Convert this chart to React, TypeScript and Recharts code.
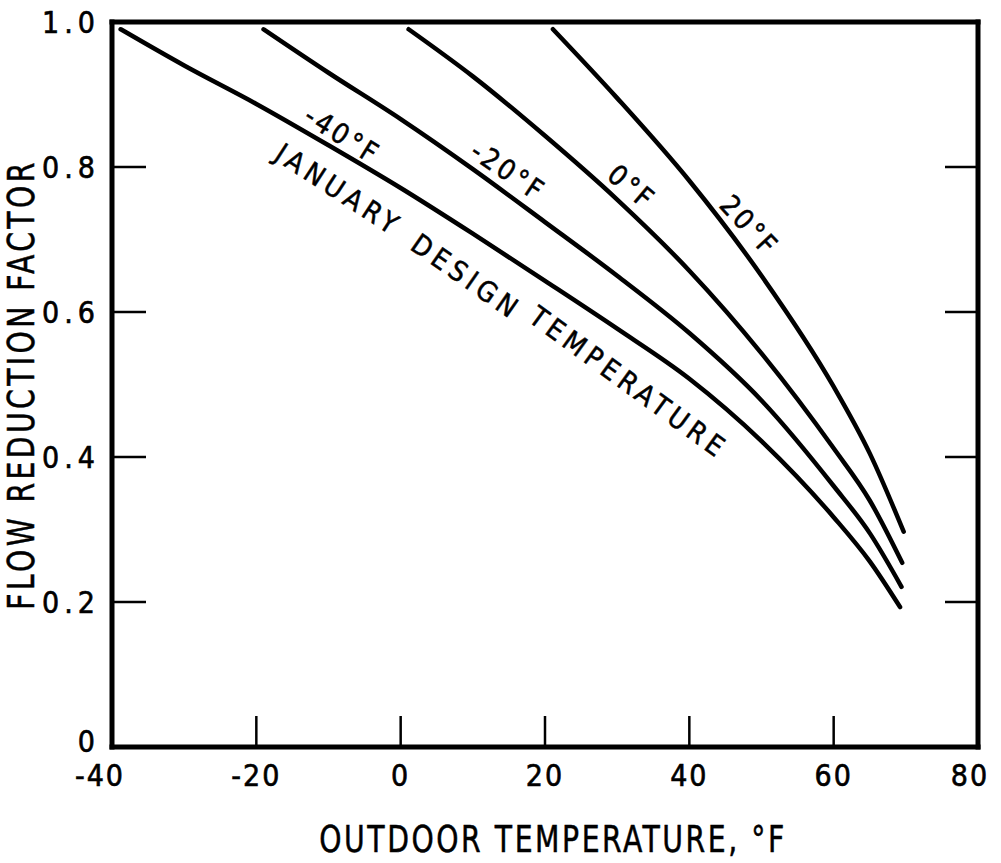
import { LineChart, Line, XAxis, YAxis, ReferenceDot } from 'recharts'

const FONT = "'DejaVu Sans Condensed', 'DejaVu Sans', sans-serif"

const xTicks = [-40, -20, 0, 20, 40, 60, 80]
const yTicks = [0, 0.2, 0.4, 0.6, 0.8, 1.0]

// flow reduction factor vs outdoor temperature, one curve per january design temp
const designMinus40 = [
  { t: -38.8, f: 0.99 },
  { t: -30, f: 0.94 },
  { t: -20, f: 0.887 },
  { t: -10, f: 0.83 },
  { t: 0, f: 0.771 },
  { t: 10, f: 0.708 },
  { t: 20, f: 0.643 },
  { t: 30, f: 0.577 },
  { t: 40, f: 0.508 },
  { t: 50, f: 0.422 },
  { t: 60, f: 0.317 },
  { t: 65, f: 0.256 },
  { t: 69.2, f: 0.193 },
]
const designMinus20 = [
  { t: -19, f: 0.99 },
  { t: -10, f: 0.93 },
  { t: 0, f: 0.866 },
  { t: 10, f: 0.797 },
  { t: 20, f: 0.724 },
  { t: 30, f: 0.65 },
  { t: 40, f: 0.571 },
  { t: 50, f: 0.478 },
  { t: 60, f: 0.36 },
  { t: 65, f: 0.295 },
  { t: 69.4, f: 0.221 },
]
const design0 = [
  { t: 1.1, f: 0.99 },
  { t: 10, f: 0.925 },
  { t: 20, f: 0.843 },
  { t: 30, f: 0.755 },
  { t: 40, f: 0.657 },
  { t: 50, f: 0.543 },
  { t: 60, f: 0.412 },
  { t: 65, f: 0.34 },
  { t: 69.5, f: 0.254 },
]
const design20 = [
  { t: 21.1, f: 0.99 },
  { t: 30, f: 0.895 },
  { t: 40, f: 0.781 },
  { t: 50, f: 0.65 },
  { t: 60, f: 0.497 },
  { t: 65, f: 0.405 },
  { t: 69.7, f: 0.297 },
]

const curves = [
  { name: '-40°F', data: designMinus40 },
  { name: '-20°F', data: designMinus20 },
  { name: '0°F', data: design0 },
  { name: '20°F', data: design20 },
]

const curveLabels = [
  { text: '-40°F', t: -8.1, f: 0.844, rot: 32, spacing: 3 },
  { text: '-20°F', t: 14.9, f: 0.794, rot: 34, spacing: 3 },
  { text: '0°F', t: 32.0, f: 0.772, rot: 40, spacing: 3 },
  { text: '20°F', t: 48.3, f: 0.719, rot: 47, spacing: 3 },
  { text: 'JANUARY', t: -8.6, f: 0.768, rot: 33, spacing: 5 },
  { text: 'DESIGN', t: 9.1, f: 0.648, rot: 35, spacing: 5 },
  { text: 'TEMPERATURE', t: 31.6, f: 0.502, rot: 36, spacing: 5 },
]

function CurveText({ viewBox, text, rot, spacing }: any) {
  const x = viewBox.x + viewBox.width / 2
  const y = viewBox.y + viewBox.height / 2
  return (
    <text
      x={x}
      y={y}
      transform={`rotate(${rot} ${x} ${y})`}
      textAnchor="middle"
      dominantBaseline="central"
      fontSize={28}
      fontFamily={FONT}
      letterSpacing={spacing}
      fill="#000"
      stroke="#000"
      strokeWidth={0.5}
    >
      {text}
    </text>
  )
}

function BottomTick({ x, y, payload }: any) {
  const v = payload.value
  // end labels sit a little left of their ticks in the original
  const dx = v === -40 ? -12 : v === 80 ? -8 : 0
  return (
    <g>
      {v > -40 && v < 80 && <line x1={x} y1={y} x2={x} y2={y - 31} stroke="#000" strokeWidth={2.5} />}
      <text x={x + dx} y={y + 39} textAnchor="middle" fontSize={30} fontFamily={FONT} letterSpacing={2} fill="#000" stroke="#000" strokeWidth={0.6}>
        {v}
      </text>
    </g>
  )
}

function TopTick({ x, y, payload }: any) {
  const v = payload.value
  if (v <= -40 || v >= 80) return <g />
  return <line x1={x} y1={y} x2={x} y2={y + 30} stroke="#000" strokeWidth={2.5} />
}

function LeftTick({ x, y, payload }: any) {
  const v = payload.value
  return (
    <g>
      {v > 0 && v < 1 && <line x1={x} y1={y} x2={x + 34} y2={y} stroke="#000" strokeWidth={2.5} />}
      <text
        x={x - 12}
        y={v === 0 ? y - 6 : y}
        textAnchor="end"
        dominantBaseline="central"
        fontSize={30}
        fontFamily={FONT}
        letterSpacing={5}
        fill="#000"
        stroke="#000"
        strokeWidth={0.6}
      >
        {v === 0 ? '0' : v.toFixed(1)}
      </text>
    </g>
  )
}

function RightTick({ x, y, payload }: any) {
  const v = payload.value
  if (v <= 0 || v >= 1) return <g />
  return <line x1={x} y1={y} x2={x - 33} y2={y} stroke="#000" strokeWidth={2.5} />
}

function XTitle({ viewBox }: any) {
  const x = viewBox.x + viewBox.width / 2 + 8
  const y = viewBox.y + 105
  return (
    <text
      transform={`translate(${x} ${y}) scale(0.85 1)`}
      textAnchor="middle"
      fontSize={37}
      fontFamily={FONT}
      letterSpacing={3}
      fill="#000"
      stroke="#000"
      strokeWidth={0.5}
    >
      OUTDOOR TEMPERATURE, °F
    </text>
  )
}

function YTitle({ viewBox }: any) {
  const x = viewBox.x + 21
  const y = viewBox.y + viewBox.height / 2
  return (
    <text
      transform={`translate(${x} ${y}) rotate(-90) scale(0.85 1)`}
      textAnchor="middle"
      dominantBaseline="central"
      fontSize={37}
      fontFamily={FONT}
      letterSpacing={4}
      fill="#000"
      stroke="#000"
      strokeWidth={0.5}
    >
      FLOW REDUCTION FACTOR
    </text>
  )
}

const frame = { stroke: '#000', strokeWidth: 5, strokeLinecap: 'square' as const }

export default function App() {
  return (
    <div style={{ position: 'absolute', left: 0, top: 0, background: '#fff' }}>
      <LineChart width={1001} height={863} margin={{ top: 21, right: 22, bottom: 0, left: 0 }}>
        <XAxis
          dataKey="t"
          type="number"
          domain={[-40, 80]}
          ticks={xTicks}
          interval={0}
          allowDataOverflow
          height={116}
          tickSize={0}
          tickMargin={0}
          tickLine={false}
          axisLine={frame}
          tick={<BottomTick />}
          label={<XTitle />}
        />
        <XAxis
          xAxisId="top"
          orientation="top"
          type="number"
          domain={[-40, 80]}
          ticks={xTicks}
          interval={0}
          allowDataOverflow
          height={1}
          tickSize={0}
          tickMargin={0}
          tickLine={false}
          axisLine={frame}
          tick={<TopTick />}
        />
        <YAxis
          type="number"
          domain={[0, 1]}
          ticks={yTicks}
          interval={0}
          allowDataOverflow
          width={112}
          tickSize={0}
          tickMargin={0}
          tickLine={false}
          axisLine={frame}
          tick={<LeftTick />}
          label={<YTitle />}
        />
        <YAxis
          yAxisId="right"
          orientation="right"
          type="number"
          domain={[0, 1]}
          ticks={yTicks}
          interval={0}
          allowDataOverflow
          width={1}
          tickSize={0}
          tickMargin={0}
          tickLine={false}
          axisLine={frame}
          tick={<RightTick />}
        />
        {curves.map((c) => (
          <Line
            key={c.name}
            name={c.name}
            data={c.data}
            dataKey="f"
            type="monotone"
            stroke="#000"
            strokeWidth={4.5}
            strokeLinecap="round"
            dot={false}
            activeDot={false}
            isAnimationActive={false}
          />
        ))}
        {curveLabels.map((l) => (
          <ReferenceDot
            key={l.text}
            x={l.t}
            y={l.f}
            r={0}
            fill="none"
            stroke="none"
            label={<CurveText text={l.text} rot={l.rot} spacing={l.spacing} />}
          />
        ))}
      </LineChart>
    </div>
  )
}
